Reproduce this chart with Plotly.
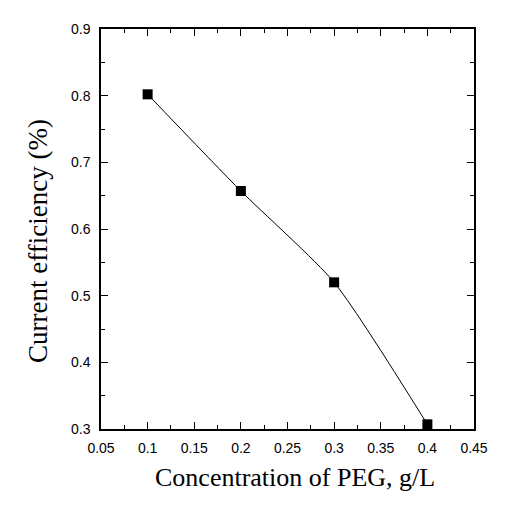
import plotly.graph_objects as go

peg = [0.1, 0.2, 0.3, 0.4]
efficiency = [0.802, 0.657, 0.520, 0.307]

x_ticks = [0.05, 0.1, 0.15, 0.2, 0.25, 0.3, 0.35, 0.4, 0.45]
x_tick_text = ["0.05", "0.1", "0.15", "0.2", "0.25", "0.3", "0.35", "0.4", "0.45"]
y_ticks = [0.3, 0.4, 0.5, 0.6, 0.7, 0.8, 0.9]
y_tick_text = ["0.3", "0.4", "0.5", "0.6", "0.7", "0.8", "0.9"]

x_title = "Concentration of PEG, g/L"
y_title = "Current efficiency (%)"

fig = go.Figure()
fig.add_trace(go.Scatter(
    x=peg, y=efficiency, mode="lines+markers",
    line=dict(color="black", width=1, shape="spline", smoothing=0.6),
    marker=dict(symbol="square", size=10, color="black"),
    showlegend=False, cliponaxis=False,
))

axis_common = dict(
    showline=True, linecolor="black", linewidth=1.5, mirror="ticks",
    ticks="inside", ticklen=7, tickwidth=1.2, tickcolor="black",
    showgrid=False, zeroline=False,
    tickfont=dict(family="Liberation Sans, Arial", size=14, color="black"),
)

fig.update_xaxes(
    range=[0.05, 0.45], tickvals=x_ticks, ticktext=x_tick_text,
    ticklabelstandoff=5,
    minor=dict(ticks="inside", ticklen=4, tickcolor="black", dtick=0.025, showgrid=False),
    **axis_common,
)
fig.update_yaxes(
    range=[0.3, 0.9], tickvals=y_ticks, ticktext=y_tick_text,
    ticklabelstandoff=6,
    minor=dict(ticks="inside", ticklen=4, tickcolor="black", dtick=0.05, showgrid=False),
    **axis_common,
)

fig.add_annotation(
    text=x_title, xref="paper", yref="paper", x=0.52, y=-0.12,
    xanchor="center", yanchor="middle", showarrow=False,
    font=dict(family="Liberation Serif, Times New Roman", size=26, color="black"),
)
fig.add_annotation(
    text=y_title, xref="paper", yref="paper", x=(30 - 93) / 373, y=0.47,
    xanchor="center", yanchor="middle", textangle=-90, showarrow=False,
    font=dict(family="Liberation Serif, Times New Roman", size=27, color="black"),
)

fig.update_layout(
    width=524, height=508,
    margin=dict(l=93, r=58, t=21, b=87),
    plot_bgcolor="white", paper_bgcolor="white",
)

fig.write_html("out.html")
